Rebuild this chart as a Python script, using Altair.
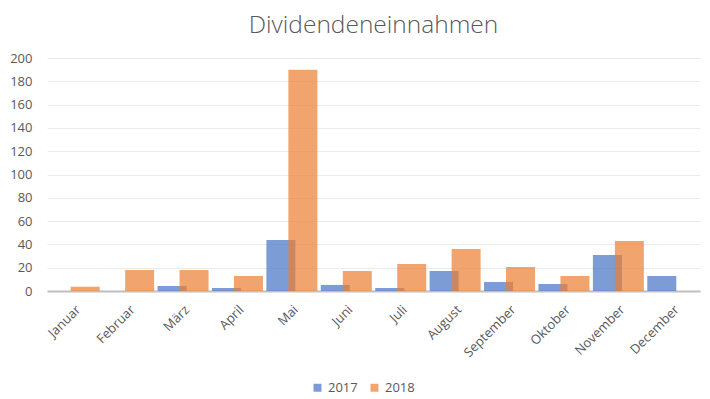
import altair as alt
import pandas as pd

months = ["Januar", "Februar", "März", "April", "Mai", "Juni", "Juli",
          "August", "September", "Oktober", "November", "December"]
y2017 = [0, 0, 4.3, 2.6, 43.8, 5.2, 2.6, 17.2, 7.7, 6.0, 30.9, 12.9]
y2018 = [3.7, 18.0, 18.0, 12.9, 190, 17.2, 23.2, 36.1, 20.6, 12.9, 43.0, 0]
years = ["2017", "2018"]
colors = ["#4472C4", "#ED7D31"]

rows = []
for m, a, b in zip(months, y2017, y2018):
    rows.append({"Monat": m, "Jahr": years[0], "Wert": a})
    rows.append({"Monat": m, "Jahr": years[1], "Wert": b})
df = pd.DataFrame(rows)

FONT = "Open Sans"
TXT = "#595959"

base = alt.Chart(df).encode(
    x=alt.X("Monat:N", sort=months,
            scale=alt.Scale(paddingInner=0, paddingOuter=0),
            axis=alt.Axis(title=None, labelAngle=-45, labelFontSize=13,
                          labelFont=FONT, labelColor=TXT, ticks=False,
                          domainColor="#BFBFBF", domainWidth=2,
                          labelPadding=12, grid=False)),
    y=alt.Y("Wert:Q", scale=alt.Scale(domain=[0, 200], nice=False),
            axis=alt.Axis(title=None, values=list(range(0, 201, 20)),
                          labelFontSize=13, labelFont=FONT, labelColor=TXT,
                          ticks=False, domain=False, gridColor="#EBEBEB",
                          gridWidth=1, labelPadding=15)),
    color=alt.Color("Jahr:N", scale=alt.Scale(domain=years, range=colors),
                    legend=alt.Legend(title=None, orient="none",
                                      direction="horizontal",
                                      legendX=264, legendY=323,
                                      symbolType="square", symbolSize=64,
                                      symbolOpacity=0.7, symbolStrokeWidth=0,
                                      labelFont=FONT, labelFontSize=13,
                                      labelColor=TXT, columnPadding=10)),
)

b17 = base.mark_bar(width=29, xOffset=-11, opacity=0.7).transform_filter(
    alt.datum.Jahr == years[0])
b18 = base.mark_bar(width=29, xOffset=11, opacity=0.7).transform_filter(
    alt.datum.Jahr == years[1])

chart = alt.layer(b17, b18).properties(
    width=653, height=233,
    autosize=alt.AutoSizeParams(type="none"),
    padding={"left": 39, "top": 50, "right": 2, "bottom": 106},
    title=alt.Title("Dividendeneinnahmen", font=FONT, fontSize=24.5,
                    fontWeight=300, color=TXT, offset=14, anchor="middle"),
).configure_view(stroke=None)

chart.save("out.html", embed_options={"renderer": "svg", "actions": False})
